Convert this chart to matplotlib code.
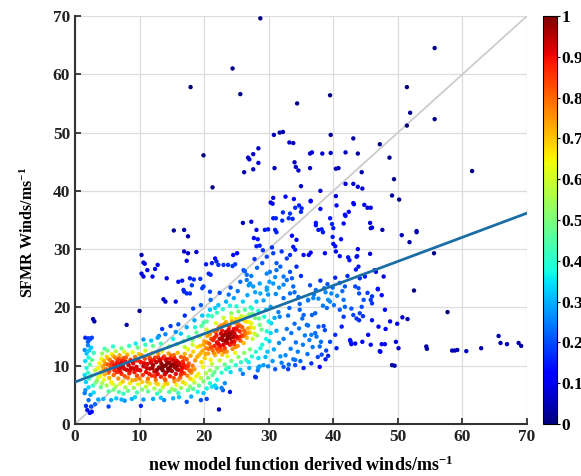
import numpy as np
import matplotlib
matplotlib.use("Agg")
import matplotlib.pyplot as plt

plt.rcParams['font.family'] = 'Liberation Serif'
plt.rcParams['font.weight'] = 'bold'
plt.rcParams['mathtext.fontset'] = 'custom'
plt.rcParams['mathtext.rm'] = 'Liberation Serif:bold'
plt.rcParams['mathtext.it'] = 'Liberation Serif:bold'
plt.rcParams['mathtext.default'] = 'rm'

# (model wind, SFMR wind) pairs, grouped by area of the plot
edge_pts = [(1.9, 2.4), (2.3, 1.9), (2.6, 2.1), (1.7, 3.1), (2.5, 3.0), (3.1, 3.4), (2.1, 4.1), (1.5, 5.3),
            (2.4, 5.0), (1.6, 5.8), (2.1, 6.3), (2.8, 6.6), (1.7, 7.2), (2.2, 7.8), (1.5, 8.4), (2.0, 8.8),
            (2.6, 8.3), (1.8, 9.6), (2.3, 10.2), (1.6, 10.8), (2.1, 11.4), (2.6, 11.0), (1.8, 12.1),
            (1.5, 12.7), (2.2, 12.6), (2.0, 13.5), (2.5, 13.1), (2.0, 14.1), (1.6, 14.8), (2.1, 14.7),
            (2.3, 14.5), (2.6, 14.8), (2.8, 18.0), (3.0, 17.6), (2.9, 12.2), (3.1, 9.2), (3.2, 7.1), (2.9, 5.4)]

low_pts = [(3.6, 4.2), (4.4, 4.3), (5.2, 3.0), (5.6, 4.1), (6.4, 4.4), (7.2, 4.2), (7.7, 4.0), (8.8, 4.3),
           (9.3, 4.6), (10.2, 3.1), (10.6, 4.2), (12.1, 4.3), (13.3, 4.5), (13.8, 4.1), (15.2, 4.4),
           (16.1, 4.6), (17.3, 3.8), (18.0, 4.7), (19.5, 4.1), (19.9, 5.3), (20.4, 4.3), (22.3, 2.5),
           (21.9, 6.2), (22.7, 6.2), (21.2, 6.4), (22.9, 5.8), (24.0, 5.5), (27.9, 8.1), (28.6, 9.9),
           (29.9, 9.9), (28.4, 9.7), (29.2, 10.1), (31.0, 9.4), (32.3, 9.8), (8.0, 17.0), (10.0, 19.4)]

core_a = [(3.6, 9.6), (3.8, 10.4), (4.0, 8.9), (4.1, 11.2), (4.3, 9.9), (4.5, 10.8), (4.6, 8.5), (4.8, 9.4),
          (4.9, 11.6), (5.1, 10.2), (5.2, 8.8), (5.4, 11.0), (5.5, 9.6), (5.7, 12.0), (5.8, 10.6), (6.0, 8.4),
          (6.1, 9.2), (6.2, 11.4), (6.4, 10.0), (6.5, 8.9), (6.6, 10.9), (6.8, 9.5), (6.9, 11.8), (7.1, 10.4),
          (7.2, 8.6), (7.4, 9.9), (7.5, 11.3), (7.7, 8.2), (7.8, 10.7), (8.0, 9.3), (8.1, 11.9), (8.3, 10.1),
          (8.4, 8.7), (8.6, 11.0), (8.7, 9.6), (8.9, 12.3), (9.0, 10.4), (9.2, 8.9), (9.3, 11.5), (9.5, 9.8),
          (9.6, 8.3), (9.8, 10.9), (9.9, 12.0), (4.2, 12.1), (5.0, 12.6), (6.3, 12.5), (7.6, 12.4), (3.9, 8.2),
          (5.3, 7.9), (6.7, 7.8), (8.2, 7.9), (9.4, 7.6), (4.7, 10.3), (5.6, 10.3), (6.5, 10.5), (7.3, 10.8),
          (8.2, 10.5), (8.8, 10.8), (4.4, 9.3), (5.0, 11.3), (5.3, 9.1), (5.9, 11.7), (6.2, 9.7), (6.8, 11.2),
          (7.0, 9.0), (7.6, 9.5), (7.9, 11.4), (8.5, 9.2), (9.1, 9.5), (9.4, 10.9), (9.7, 9.3), (6.0, 10.1),
          (7.1, 9.7)]

core_b = [(10.1, 9.2), (10.2, 10.6), (10.3, 11.8), (10.5, 8.4), (10.6, 9.9), (10.8, 11.2), (10.9, 12.6),
          (11.0, 8.9), (11.2, 10.3), (11.3, 7.8), (11.4, 11.7), (11.6, 9.5), (11.7, 10.9), (11.9, 8.3),
          (12.0, 12.2), (12.1, 10.1), (12.3, 9.0), (12.4, 11.4), (12.5, 7.6), (12.6, 10.6), (12.8, 8.6),
          (12.9, 12.0), (13.0, 9.7), (13.1, 11.0), (13.3, 8.1), (13.4, 10.3), (13.5, 12.5), (13.6, 9.2),
          (13.8, 11.6), (13.9, 7.7), (14.0, 10.0), (14.1, 8.8), (14.2, 11.1), (14.4, 9.5), (14.5, 12.1),
          (14.6, 10.5), (14.7, 8.2), (14.9, 11.7), (15.0, 9.1), (15.1, 10.2), (15.3, 7.9), (15.4, 11.3),
          (15.5, 9.7), (15.6, 8.6), (15.8, 10.8), (15.9, 12.2), (16.0, 9.3), (16.2, 10.1), (16.3, 8.0),
          (16.4, 11.5), (16.6, 9.6), (16.7, 10.7), (16.9, 8.7), (17.0, 12.0), (17.1, 9.9), (17.3, 11.1),
          (17.4, 8.3), (17.6, 10.4), (17.7, 9.2), (17.9, 11.7), (18.0, 8.8), (18.2, 10.0), (18.3, 12.4),
          (18.5, 9.4), (18.6, 10.9), (18.8, 8.2), (18.9, 11.5), (11.1, 9.6), (11.8, 10.5), (12.7, 9.3),
          (13.2, 10.8), (13.7, 9.9), (14.3, 10.4), (14.8, 9.8), (15.2, 10.9), (15.7, 9.9), (16.1, 10.5),
          (16.5, 9.0), (16.8, 10.2), (17.2, 9.6), (12.2, 11.0), (13.6, 11.3), (15.3, 11.8), (12.4, 8.2),
          (14.0, 7.5), (16.0, 7.6), (17.8, 7.8), (13.4, 9.5), (14.5, 9.2), (15.8, 9.4), (14.1, 10.9),
          (10.7, 10.4), (11.5, 8.6), (12.0, 9.6), (12.9, 11.4), (13.9, 8.5), (14.7, 11.2), (15.6, 10.4),
          (16.4, 8.5), (16.9, 11.3), (17.5, 9.9), (18.1, 9.2), (11.6, 11.3)]

core_c = [(19.2, 11.8), (19.4, 13.4), (19.6, 10.6), (19.8, 12.6), (20.0, 14.2), (20.1, 11.3), (20.3, 13.0),
          (20.5, 15.1), (20.6, 12.1), (20.8, 13.8), (21.0, 11.0), (21.1, 14.6), (21.3, 12.7), (21.4, 16.0),
          (21.6, 13.4), (21.7, 11.8), (21.9, 15.2), (22.0, 14.0), (22.2, 12.4), (22.3, 16.6), (22.5, 13.3),
          (22.6, 15.5), (22.8, 11.9), (22.9, 14.4), (23.1, 17.1), (23.2, 13.0), (23.4, 15.8), (23.5, 12.4),
          (23.7, 14.9), (23.8, 16.9), (24.0, 13.6), (24.1, 15.4), (24.3, 17.6), (24.4, 12.9), (24.6, 16.3),
          (24.7, 14.2), (24.9, 18.0), (25.0, 15.0), (25.2, 13.4), (25.3, 17.1), (25.5, 15.9), (25.6, 14.3),
          (25.8, 18.5), (25.9, 16.6), (26.1, 13.9), (26.3, 15.4), (26.4, 17.6), (26.6, 14.8), (26.8, 16.4),
          (27.0, 18.8), (27.1, 15.7), (27.3, 17.3), (27.5, 14.6), (27.7, 16.5), (27.9, 18.2), (21.2, 10.3),
          (22.4, 10.9), (23.6, 11.6), (24.8, 12.2), (20.4, 16.2), (21.8, 17.3), (23.0, 18.2), (24.2, 19.0),
          (22.1, 13.9), (23.3, 14.2), (24.5, 14.9), (23.9, 15.6), (22.7, 14.7), (19.5, 12.2), (19.9, 13.6),
          (20.2, 12.0), (20.4, 14.0), (20.7, 12.9), (20.9, 15.4), (21.1, 13.2), (21.4, 14.4), (21.5, 12.2),
          (21.8, 15.8), (22.0, 12.9), (22.1, 16.2), (22.4, 14.6), (22.6, 12.7), (22.8, 16.0), (23.0, 13.6),
          (23.2, 15.3), (23.4, 17.5), (23.6, 13.9), (23.8, 16.2), (24.0, 14.7), (24.2, 18.2), (24.4, 15.8),
          (24.6, 13.7), (24.8, 17.4), (25.0, 16.2), (25.2, 14.7), (25.4, 18.0), (25.6, 16.8), (25.8, 15.2),
          (26.0, 17.9), (26.2, 16.0), (26.5, 18.4), (26.7, 15.6), (26.9, 17.5), (27.2, 16.6), (27.5, 18.9),
          (27.8, 15.5), (22.3, 13.6), (22.9, 15.1), (23.5, 14.5), (23.9, 16.8), (24.3, 14.1), (24.7, 15.5),
          (25.1, 16.6), (25.5, 14.9), (23.1, 12.4), (22.6, 16.9), (24.9, 13.2), (26.0, 15.1), (21.6, 14.8),
          (23.7, 15.2)]

halo_pts = [(3.4, 7.4), (4.2, 7.0), (4.9, 6.6), (5.6, 7.2), (6.3, 6.4), (7.0, 6.9), (7.8, 6.3), (8.5, 7.0),
            (9.1, 6.2), (9.8, 6.8), (10.4, 7.2), (11.0, 6.4), (11.6, 6.9), (12.3, 6.1), (12.9, 6.8),
            (13.6, 6.3), (14.3, 6.9), (15.0, 6.0), (15.7, 6.7), (16.4, 6.2), (17.1, 6.9), (17.8, 6.4),
            (18.5, 7.1), (19.2, 6.6), (19.9, 7.3), (20.6, 7.9), (21.3, 8.4), (22.0, 7.6), (22.7, 8.8),
            (23.4, 9.4), (24.1, 8.9), (24.9, 10.1), (5.2, 5.6), (6.8, 5.5), (8.2, 5.7), (9.6, 5.4), (11.3, 5.6),
            (12.7, 5.2), (14.6, 5.5), (16.0, 5.3), (17.5, 5.8), (19.0, 5.5), (20.4, 6.1), (21.7, 6.6),
            (23.2, 7.0), (4.6, 12.9), (5.9, 13.3), (7.2, 13.0), (8.4, 13.4), (9.7, 13.1), (10.9, 13.6),
            (12.1, 13.4), (13.3, 13.8), (14.6, 13.3), (15.8, 13.7), (17.0, 13.2), (18.2, 13.6), (12.8, 14.8),
            (14.0, 15.4), (15.2, 14.6), (16.4, 15.5), (17.6, 14.9), (18.8, 15.7), (19.6, 16.8), (20.4, 17.6),
            (21.2, 18.5), (22.0, 19.1), (13.5, 16.3), (14.8, 16.8), (16.0, 17.1), (17.3, 16.6), (18.5, 17.8),
            (19.7, 18.6), (20.9, 19.6), (22.2, 20.4), (23.4, 21.0), (24.6, 21.6), (17.0, 18.6), (18.3, 19.8),
            (19.5, 20.4), (21.0, 21.3), (22.4, 22.5), (23.8, 22.2), (25.0, 20.2), (26.0, 21.0), (27.2, 20.0),
            (28.4, 19.4), (28.2, 15.2), (28.6, 17.0), (29.0, 13.6), (29.3, 18.4), (29.7, 15.9), (30.1, 14.2),
            (30.4, 17.3), (30.8, 12.8), (31.2, 16.0), (31.6, 13.9), (28.0, 12.4), (27.4, 11.6), (26.5, 11.0),
            (25.7, 10.6), (29.5, 11.5), (30.6, 10.8), (31.8, 11.6), (27.0, 9.6), (28.3, 9.2), (26.0, 8.6),
            (17.5, 12.8), (18.2, 14.4), (18.9, 13.2), (19.3, 15.0), (18.6, 16.6), (19.9, 17.4), (20.6, 18.6),
            (21.7, 19.9), (22.9, 19.7), (24.0, 20.3), (25.3, 19.3), (26.3, 19.6), (27.4, 19.8), (28.5, 18.1),
            (28.9, 16.2), (29.6, 14.6), (28.7, 13.0), (28.4, 11.3), (27.1, 12.8), (26.2, 12.2), (25.3, 11.5),
            (24.2, 10.8), (23.2, 10.2), (22.0, 9.6), (20.9, 9.2), (19.8, 9.8), (19.1, 8.6), (20.3, 8.7),
            (21.6, 8.9), (23.8, 9.7), (25.6, 9.3), (26.9, 10.6), (29.8, 12.4), (30.3, 15.6), (30.9, 18.2),
            (29.6, 19.6), (28.1, 21.0), (26.7, 22.1), (25.2, 22.8), (24.1, 23.4), (9.4, 13.8), (10.6, 14.5),
            (11.8, 14.3), (13.0, 15.1), (15.6, 15.8), (16.8, 14.2), (4.5, 7.6), (5.8, 6.9), (7.4, 7.3),
            (8.9, 7.5), (10.0, 7.8), (11.2, 7.3), (12.6, 7.0), (13.9, 6.8), (15.4, 7.3), (16.7, 7.2),
            (18.2, 7.6), (19.5, 7.9), (3.6, 8.0), (4.0, 6.3), (6.0, 5.9), (7.5, 5.2), (10.4, 5.9), (13.2, 5.7),
            (15.5, 5.8), (18.3, 6.0), (20.9, 7.0)]

mid_pts = [(32.0, 10.5), (32.6, 11.8), (33.1, 10.2), (33.4, 12.9), (33.8, 11.1), (34.2, 14.0), (34.5, 12.4),
           (34.9, 10.8), (35.3, 13.6), (35.6, 15.2), (36.0, 12.0), (36.3, 14.4), (32.3, 14.6), (32.8, 16.3),
           (33.5, 15.6), (34.0, 17.2), (34.7, 16.4), (35.2, 18.1), (36.1, 16.9), (36.8, 13.2), (37.2, 15.6),
           (37.6, 11.5), (38.1, 14.1), (38.5, 16.8), (38.9, 12.6), (33.0, 9.4), (34.1, 10.1), (35.4, 9.6),
           (36.6, 10.4), (37.9, 9.8), (36.9, 21.6), (37.3, 23.0), (37.7, 21.5), (38.0, 24.6), (38.4, 20.3),
           (38.8, 22.6), (39.1, 24.0), (39.5, 21.0), (39.9, 23.4), (40.3, 25.1), (40.6, 22.0), (41.0, 24.2),
           (41.4, 22.8), (41.8, 23.6), (42.2, 25.4), (37.0, 22.2), (38.6, 23.3), (39.7, 22.4), (40.1, 20.4),
           (36.4, 23.8), (35.0, 25.4), (29.2, 21.2), (30.3, 20.1), (31.1, 22.3), (31.5, 19.2), (32.3, 21.6),
           (33.2, 19.9), (34.0, 22.6), (34.8, 20.6), (36.1, 21.2), (30.0, 17.6), (31.7, 18.4), (33.0, 18.6),
           (26.9, 23.8), (25.6, 24.4), (27.9, 22.6), (27.3, 25.4), (28.2, 26.8), (29.0, 27.6), (30.2, 26.1),
           (31.0, 25.2), (31.8, 27.0), (28.7, 22.4), (29.9, 22.2), (31.6, 23.4), (32.8, 24.7), (33.6, 25.0),
           (30.5, 30.3), (32.0, 29.6), (29.1, 29.8), (27.8, 28.3)]

spread_pts = [(29.7, 28.7), (30.7, 29.3), (31.2, 27.6), (32.8, 28.4), (33.8, 30.4), (34.3, 31.6), (31.2, 26.4),
              (32.3, 25.3), (33.3, 26.1), (34.3, 27.0), (29.7, 25.8), (28.6, 24.1), (30.7, 24.1), (32.3, 23.9),
              (33.8, 23.6), (33.3, 22.4), (29.7, 23.0), (27.6, 23.6), (26.6, 24.7), (29.7, 23.4), (30.1, 24.4),
              (27.1, 24.1), (26.1, 26.4), (26.6, 25.6), (26.3, 26.2), (28.1, 33.3), (28.3, 31.7), (28.1, 30.5),
              (28.6, 30.6), (46.0, 33.7), (50.6, 32.4), (41.2, 31.7), (40.0, 30.9), (40.3, 30.5), (40.4, 29.6),
              (38.7, 29.3), (36.5, 29.4), (36.2, 29.0), (35.4, 29.0), (34.1, 29.9), (33.3, 29.0), (42.3, 28.6),
              (43.6, 28.7), (43.8, 30.0), (45.7, 29.2), (43.5, 26.5), (44.1, 25.0), (44.9, 25.3), (46.4, 26.4),
              (47.8, 25.3), (46.6, 26.1), (43.9, 27.0), (42.5, 28.1), (41.0, 28.8), (39.9, 32.1),
              (43.4, 23.6), (43.9, 23.3), (44.0, 22.4), (44.7, 21.3), (46.0, 21.9), (46.9, 23.1), (47.5, 22.1),
              (45.8, 21.3), (46.0, 20.7), (44.4, 20.1), (44.1, 19.0), (44.6, 18.5),
              (44.0, 17.8), (46.0, 17.8), (47.0, 16.7), (48.0, 19.6), (48.8, 17.6), (50.7, 18.3),
              (45.4, 15.3), (42.6, 14.4), (42.8, 13.7), (43.4, 13.8), (44.5, 14.1), (45.8, 13.6), (47.5, 13.7),
              (49.7, 14.1), (50.1, 13.0), (47.3, 12.4), (49.1, 10.1), (49.5, 10.0), (40.5, 13.0),
              (39.2, 11.7), (38.8, 11.1), (38.2, 11.9), (37.9, 13.3), (37.4, 15.0), (36.6, 15.3),
              (35.9, 17.0), (37.7, 16.7), (38.7, 16.1), (39.5, 14.1),
              (40.3, 15.3), (41.3, 16.7), (41.6, 18.4), (41.0, 19.6), (41.8, 20.1), (42.8, 19.8),
              (43.1, 18.7), (43.6, 18.1), (41.6, 21.3), (39.2, 21.3), (39.0, 19.9),
              (37.2, 19.0), (36.7, 18.7), (35.4, 18.7), (34.8, 19.6), (36.1, 21.3), (34.6, 21.8),
              (55.6, 29.3), (51.8, 31.2), (52.9, 32.9), (52.5, 22.9), (57.7, 19.2),
              (51.5, 18.0), (65.6, 15.1), (65.9, 13.9), (66.9, 13.7), (68.7, 13.9), (69.1, 13.4),
              (62.9, 13.0), (60.6, 12.5), (58.4, 12.6), (58.8, 12.6), (59.2, 12.7), (54.4, 13.3), (54.5, 12.9),
              (49.9, 17.2), (48.1, 16.3), (47.2, 12.5), (48.0, 13.7), (46.9, 23.2), (42.7, 14.1), (45.3, 22.5),
              (43.7, 28.8), (28.0, 8.0), (34.1, 11.0)]

upper_pts = [(10.3, 29.0), (10.6, 27.7), (10.8, 27.5), (10.3, 25.8), (10.6, 25.3), (11.2, 26.4), (12.4, 26.6),
             (12.8, 27.3), (12.0, 25.3), (13.7, 21.4), (14.0, 21.0), (14.2, 25.0), (16.0, 24.4), (16.6, 24.6),
             (15.6, 21.0), (16.9, 29.6), (17.5, 29.3), (18.8, 29.5), (17.3, 28.0), (17.8, 25.0), (18.4, 24.8),
             (16.9, 22.7), (17.3, 22.4), (19.4, 24.9), (19.7, 23.3), (20.3, 27.4), (20.7, 25.8), (21.2, 27.6),
             (21.7, 28.4), (21.9, 27.9), (22.2, 27.3), (23.0, 27.3), (23.7, 27.3), (24.4, 27.1), (24.8, 27.4),
             (24.5, 29.0), (25.1, 29.3), (18.1, 23.8), (16.8, 23.0), (17.8, 22.4),
             (19.9, 23.6), (20.9, 22.7), (21.0, 25.6)]

outlier_pts = [(28.7, 69.6), (24.4, 61.0), (17.9, 57.8), (25.6, 56.6), (34.4, 55.0), (39.5, 56.4), (55.7, 64.5),
               (51.4, 57.8), (51.9, 53.4), (55.7, 52.3), (51.4, 51.2), (19.9, 46.1), (21.3, 40.6), (30.8, 49.6),
               (31.7, 50.0), (32.2, 50.1), (39.6, 49.6), (43.1, 49.0), (47.2, 48.0), (28.4, 47.3), (27.6, 46.3),
               (26.8, 45.7), (27.0, 45.4), (28.4, 44.8), (27.6, 43.7), (26.2, 43.2), (30.9, 43.9), (33.2, 48.3),
               (33.8, 48.2), (34.0, 44.9), (34.2, 44.1), (34.6, 43.5), (36.4, 46.4), (36.7, 46.6), (38.3, 46.4),
               (39.6, 46.5), (41.9, 46.6), (43.8, 46.4), (48.7, 45.7), (36.4, 43.9), (40.4, 43.8), (40.8, 43.9),
               (44.4, 43.2), (61.5, 43.4), (49.4, 42.0), (41.9, 41.2), (43.1, 41.2), (43.8, 40.7), (44.5, 40.4),
               (35.0, 40.8), (38.0, 40.0), (49.1, 39.2), (50.2, 38.5), (32.6, 39.0), (33.9, 38.6), (40.4, 39.1),
               (36.5, 38.2), (43.1, 37.9), (40.5, 37.5), (44.8, 37.6), (45.3, 37.1), (45.8, 37.1), (34.1, 37.1),
               (34.7, 37.5), (35.1, 37.0), (35.0, 36.4), (38.0, 36.9), (42.4, 36.4), (41.9, 35.7), (32.2, 36.3),
               (33.3, 36.1), (33.7, 35.2), (30.7, 38.8), (30.3, 38.0), (30.6, 37.8), (30.7, 35.3), (31.1, 35.3),
               (32.1, 34.9), (33.1, 35.3), (27.3, 34.7), (26.0, 34.5), (15.3, 33.2), (16.9, 33.3), (17.5, 32.2),
               (29.4, 33.3), (29.9, 33.4), (31.0, 33.3), (31.2, 32.9), (27.7, 31.9), (33.6, 32.3), (45.7, 34.5),
               (45.8, 33.6), (47.6, 33.3), (39.5, 35.3), (39.8, 34.3), (40.0, 33.6), (37.3, 34.5), (37.3, 34.1),
               (37.7, 33.3), (38.2, 33.4), (38.4, 32.9), (41.6, 34.4), (52.9, 33.1), (36.5, 38.3), (41.8, 35.9),
               (43.2, 37.7)]

# least-squares fit line
fit_intercept = 7.2
fit_slope = 0.414

cbar_ticks = [0, 0.1, 0.2, 0.3, 0.4, 0.5, 0.6, 0.7, 0.8, 0.9, 1]

pts = np.array(edge_pts + low_pts + core_a + core_b + core_c + halo_pts + mid_pts
               + spread_pts + upper_pts + outlier_pts)
x, y = pts[:, 0], pts[:, 1]

# neighbour density (gaussian kernel, point itself left out), scaled to 0..1
dx = (x[:, None] - x[None, :]) / 2.3
dy = (y[:, None] - y[None, :]) / 1.9
dens = np.exp(-0.5 * (dx ** 2 + dy ** 2)).sum(axis=1) - 1.0
dens = dens / dens.max()
order = np.argsort(dens)

fig = plt.figure(figsize=(5.81, 4.76), dpi=100)
ax = fig.add_axes([75 / 581, 52 / 476, 452 / 581, 408 / 476])
cax = fig.add_axes([543 / 581, 52 / 476, 14 / 581, 408 / 476])

ax.grid(True, color='#dddddd', lw=0.9)
ax.set_axisbelow(True)
ax.plot([0, 70], [0, 70], color='#cccccc', lw=1.3, zorder=1)
sc = ax.scatter(x[order], y[order], c=dens[order], cmap='jet', vmin=0, vmax=1,
                s=10, linewidths=0, zorder=2)
xx = np.array([0, 70])
ax.plot(xx, fit_intercept + fit_slope * xx, color='#1b6ea5', lw=2, zorder=3)

ax.set_xlim(0, 70)
ax.set_ylim(0, 70)
ax.set_xticks(range(0, 71, 10))
ax.set_yticks(range(0, 71, 10))
for s in ['top', 'right']:
    ax.spines[s].set_visible(False)
for s in ['left', 'bottom']:
    ax.spines[s].set_linewidth(1.5)
    ax.spines[s].set_color('#333333')
ax.tick_params(direction='in', length=4, width=1.2, labelsize=12.5, colors='#222222')
ax.set_xlabel('new model function derived winds/ms$^{-1}$', fontsize=13, fontweight='bold')
ax.xaxis.set_label_coords(0.5, -0.078)
ax.set_ylabel('SFMR Winds/ms$^{-1}$', fontsize=11.5, fontweight='bold')
ax.yaxis.set_label_coords(-0.085, 0.47)

cb = fig.colorbar(sc, cax=cax, ticks=cbar_ticks)
cb.ax.set_yticklabels(['%g' % t for t in cbar_ticks])
cb.ax.tick_params(labelsize=12.5, length=2, pad=1)
cb.outline.set_linewidth(0.8)

fig.savefig('out.png', dpi=100)
